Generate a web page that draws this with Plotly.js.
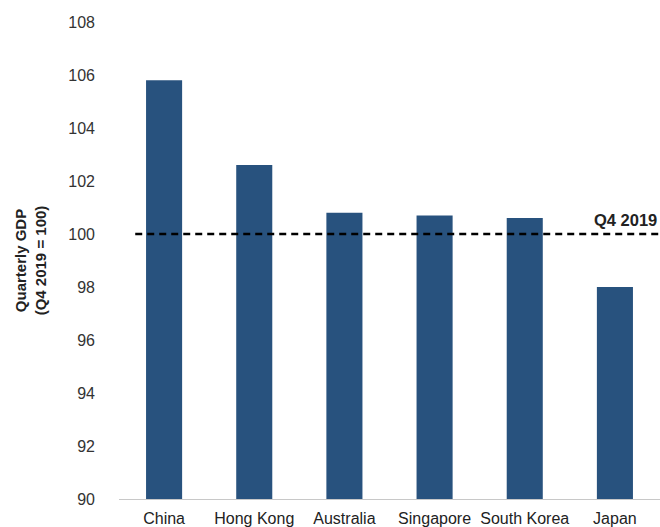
<!DOCTYPE html>
<html>
<head>
<meta charset="utf-8">
<script src="https://cdn.plot.ly/plotly-3.0.1.min.js"></script>
<style>
  html, body { margin: 0; padding: 0; background: #fff; }
  #chart { width: 660px; height: 527px; }
</style>
</head>
<body>
<div id="chart"></div>
<script>
// Quarterly GDP relative to Q4 2019 (index = 100)
const countries = ["China", "Hong Kong", "Australia", "Singapore", "South Korea", "Japan"];
const gdpIndex = [105.8, 102.6, 100.8, 100.7, 100.6, 98.0];
const baselineValue = 100;
const baselineLabel = "Q4 2019";
const yTicks = [90, 92, 94, 96, 98, 100, 102, 104, 106, 108];

const font = "Liberation Sans, Arial, sans-serif";

const bars = {
  type: "bar",
  x: countries,
  y: gdpIndex,
  width: 0.4,
  marker: { color: "#28527e", line: { width: 0 } },
  hoverinfo: "x+y"
};

const layout = {
  width: 660,
  height: 527,
  margin: { l: 119, r: 0, t: 22, b: 28 },
  paper_bgcolor: "#ffffff",
  plot_bgcolor: "#ffffff",
  showlegend: false,
  font: { family: font, size: 16, color: "#333333" },
  xaxis: {
    type: "category",
    range: [-0.5, 5.5],
    showgrid: false,
    zeroline: false,
    showline: true,
    linecolor: "#c8c8c8",
    linewidth: 1,
    ticks: "",
    ticklabelstandoff: 5,
    tickfont: { family: font, size: 16, color: "#222222" },
    fixedrange: true
  },
  yaxis: {
    range: [90, 108],
    tickvals: yTicks,
    ticktext: yTicks.map(String),
    showgrid: false,
    zeroline: false,
    showline: false,
    ticks: "",
    ticklabelstandoff: 23,
    tickfont: { family: font, size: 16, color: "#333333" },
    title: {
      text: "<b>Quarterly GDP<br>(Q4 2019 = 100)</b>",
      font: { family: font, size: 15, color: "#222222" },
      standoff: 18
    },
    fixedrange: true
  },
  shapes: [{
    type: "line",
    xref: "x",
    yref: "y",
    x0: -0.32,
    x1: 5.5,
    y0: baselineValue,
    y1: baselineValue,
    line: { color: "#000000", width: 2.5, dash: "7px,5px" },
    layer: "above"
  }],
  annotations: [{
    xref: "paper",
    yref: "y",
    x: 1,
    y: baselineValue,
    xanchor: "right",
    yanchor: "bottom",
    xshift: -1,
    yshift: 3,
    text: "<b>" + baselineLabel + "</b>",
    showarrow: false,
    font: { family: font, size: 16.5, color: "#222222" }
  }]
};

Plotly.newPlot("chart", [bars], layout, { displayModeBar: false, staticPlot: true });
</script>
</body>
</html>
